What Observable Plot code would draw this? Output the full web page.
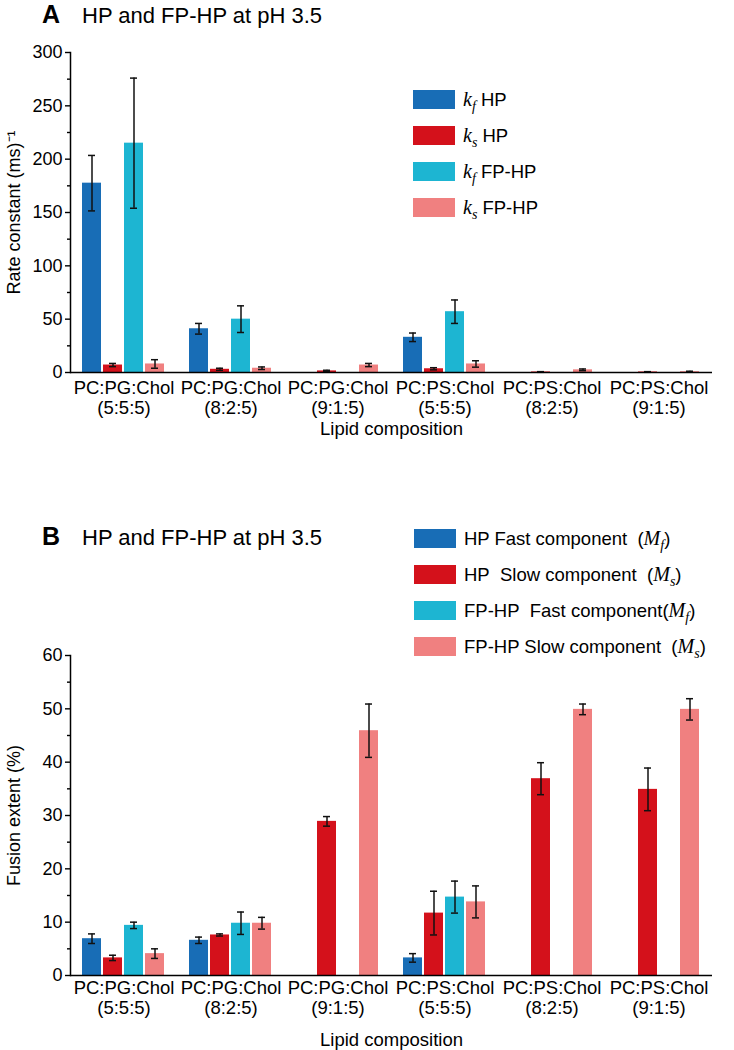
<!DOCTYPE html>
<html>
<head>
<meta charset="utf-8">
<script src="https://cdn.jsdelivr.net/npm/d3@7"></script>
<script src="https://cdn.jsdelivr.net/npm/@observablehq/plot@0.6"></script>
<style>
  body { margin: 0; background: white; }
  #root { position: relative; width: 734px; height: 1050px; background: white; font-family: "Liberation Sans", Arial, sans-serif; color: black; }
  .panel { position: absolute; left: 0; }
  .title { position: absolute; left: 42px; font-size: 22px; line-height: 24px; white-space: nowrap; }
  .title b { font-size: 25px; display: inline-block; width: 40px; }
  .legend { position: absolute; font-size: 18.5px; line-height: 20px; }
  .legend .row { position: absolute; left: 0; white-space: nowrap; height: 20px; }
  .legend .sw { position: absolute; left: 0; top: 0; width: 42px; height: 19px; }
  .legend .tx { position: absolute; top: -1px; }
  .legend i { font-family: "Liberation Serif", "Times New Roman", serif; font-size: 20px; }
  .legend sub { font-size: 14px; vertical-align: -5px; line-height: 0; }
</style>
</head>
<body>
<div id="root"></div>
<script>
// ---- categories ----
const groups = [
  "PC:PG:Chol\n(5:5:5)", "PC:PG:Chol\n(8:2:5)", "PC:PG:Chol\n(9:1:5)",
  "PC:PS:Chol\n(5:5:5)", "PC:PS:Chol\n(8:2:5)", "PC:PS:Chol\n(9:1:5)"
];
const seriesA = ["kf HP", "ks HP", "kf FP-HP", "ks FP-HP"];
const seriesB = ["HP Fast (Mf)", "HP Slow (Ms)", "FP-HP Fast (Mf)", "FP-HP Slow (Ms)"];
const colors = ["#186db6", "#d4111b", "#1db5d2", "#f08080"];

// ---- legend labels ----
const legendA = [
  "<i>k<sub>f</sub></i> HP",
  "<i>k<sub>s</sub></i> HP",
  "<i>k<sub>f</sub></i> FP-HP",
  "<i>k<sub>s</sub></i> FP-HP"
];
const legendB = [
  "HP Fast component&nbsp; (<i>M<sub>f</sub></i>)",
  "HP&nbsp; Slow component&nbsp; (<i>M<sub>s</sub></i>)",
  "FP-HP&nbsp; Fast component(<i>M<sub>f</sub></i>)",
  "FP-HP Slow component&nbsp; (<i>M<sub>s</sub></i>)"
];

// ---- Panel A: rate constants (ms^-1), null = no bar ----
const kfHP      = [177.5, 41, null, 33, null, null];
const kfHPErr   = [26, 5, null, 4, null, null];
const ksHP      = [7, 3, 1.5, 3.5, 0.5, 0.5];
const ksHPErr   = [1.5, 1, 0.6, 1, 0.3, 0.3];
const kfFPHP    = [215, 50, null, 57, null, null];
const kfFPHPErr = [61, 12.5, null, 11, null, null];
const ksFPHP    = [8, 4, 7, 8, 2.5, 0.8];
const ksFPHPErr = [4, 1.2, 1.5, 3, 0.8, 0.4];

// ---- Panel B: fusion extent (%) ----
const MfHP      = [6.9, 6.6, null, 3.3, null, null];
const MfHPErr   = [0.9, 0.6, null, 0.8, null, null];
const MsHP      = [3.3, 7.6, 28.9, 11.7, 36.9, 34.9];
const MsHPErr   = [0.5, 0.2, 0.9, 4.1, 3, 4];
const MfFPHP    = [9.4, 9.8, null, 14.7, null, null];
const MfFPHPErr = [0.6, 2.1, null, 3, null, null];
const MsFPHP    = [4.1, 9.8, 45.9, 13.8, 49.9, 49.9];
const MsFPHPErr = [0.9, 1.1, 5, 3, 1, 2];

const yTicksA = [0, 50, 100, 150, 200, 250, 300];
const yMinorA = [25, 75, 125, 175, 225, 275];
const yTicksB = [0, 10, 20, 30, 40, 50, 60];
const yMinorB = [5, 15, 25, 35, 45, 55];

function table(series, vals, errs) {
  const rows = [];
  groups.forEach((g, i) => {
    series.forEach((s, j) => {
      const v = vals[j][i];
      if (v == null) return;
      const e = errs[j][i];
      rows.push({group: g, series: s, value: v, lo: v - e, hi: v + e});
    });
  });
  return rows;
}

const dataA = table(seriesA, [kfHP, ksHP, kfFPHP, ksFPHP], [kfHPErr, ksHPErr, kfFPHPErr, ksFPHPErr]);
const dataB = table(seriesB, [MfHP, MsHP, MfFPHP, MsFPHP], [MfHPErr, MsHPErr, MfFPHPErr, MsFPHPErr]);

function chart({data, series, domain, ticks, minor, ylabel, height, marginTop, marginBottom, fxPadding, labelOffsetX}) {
  return Plot.plot({
    width: 734,
    height,
    marginTop,
    marginBottom,
    marginLeft: 70,
    marginRight: 22,
    style: {fontFamily: "'Liberation Sans', Arial, sans-serif", fontSize: "18px", background: "white", color: "black", overflow: "visible"},
    fx: {domain: groups, padding: 0},
    x: {domain: series, paddingInner: 0.08, paddingOuter: 0.55, axis: null},
    y: {domain, axis: null},
    color: {domain: series, range: colors},
    marks: [
      Plot.barY(data, {fx: "group", x: "series", y: "value", fill: "series"}),
      Plot.ruleX(data, {fx: "group", x: "series", y1: "lo", y2: "hi", stroke: "#111", strokeWidth: 1.5}),
      Plot.tickY(data, {fx: "group", x: "series", y: "lo", stroke: "#111", strokeWidth: 1.5, insetLeft: 6, insetRight: 6}),
      Plot.tickY(data, {fx: "group", x: "series", y: "hi", stroke: "#111", strokeWidth: 1.5, insetLeft: 6, insetRight: 6}),
      Plot.ruleY([0], {stroke: "black", strokeWidth: 1.6}),
      Plot.frame({anchor: "left", facetAnchor: "left", stroke: "black", strokeWidth: 1.5}),
      Plot.axisY({ticks, tickSize: 5, tickPadding: 3, strokeWidth: 1.4, label: ylabel,
                  labelAnchor: "center", labelArrow: "none", labelOffset: 63}),
      Plot.axisY({ticks: minor, tickSize: 3, strokeWidth: 1.4, tickFormat: () => "", label: null}),
      Plot.axisFx({anchor: "bottom", tickSize: 0, tickPadding: fxPadding, fontSize: 18.5, lineHeight: 1.08,
                   label: "Lipid composition", labelAnchor: "center", labelArrow: "none", labelOffset: labelOffsetX})
    ]
  });
}

const root = document.getElementById("root");

function addTitle(letter, top) {
  const d = document.createElement("div");
  d.className = "title";
  d.style.top = top + "px";
  d.innerHTML = `<b>${letter}</b>HP and FP-HP at pH 3.5`;
  root.appendChild(d);
}

function addLegend(labels, left, top, step, textLeft) {
  const lg = document.createElement("div");
  lg.className = "legend";
  lg.style.left = left + "px";
  lg.style.top = top + "px";
  labels.forEach((l, i) => {
    const r = document.createElement("div");
    r.className = "row";
    r.style.top = (i * step) + "px";
    r.innerHTML = `<div class="sw" style="background:${colors[i]}"></div><div class="tx" style="left:${textLeft}px">${l}</div>`;
    lg.appendChild(r);
  });
  root.appendChild(lg);
}

// Panel A
const pA = chart({data: dataA, series: seriesA, domain: [0, 300], ticks: yTicksA, minor: yMinorA,
  ylabel: "Rate constant (ms)⁻¹", height: 440, marginTop: 52, marginBottom: 68, fxPadding: 7, labelOffsetX: 62});
const wA = document.createElement("div");
wA.className = "panel"; wA.style.top = "0px";
wA.appendChild(pA);
root.appendChild(wA);

// Panel B
const pB = chart({data: dataB, series: seriesB, domain: [0, 60], ticks: yTicksB, minor: yMinorB,
  ylabel: "Fusion extent (%)", height: 450, marginTop: 55, marginBottom: 75, fxPadding: 4, labelOffsetX: 70});
const wB = document.createElement("div");
wB.className = "panel"; wB.style.top = "600px";
wB.appendChild(pB);
root.appendChild(wB);

addTitle("A", 2);
addTitle("B", 524);
addLegend(legendA, 413, 90, 36, 50);
addLegend(legendB, 414, 529, 36, 50);
</script>
</body>
</html>
